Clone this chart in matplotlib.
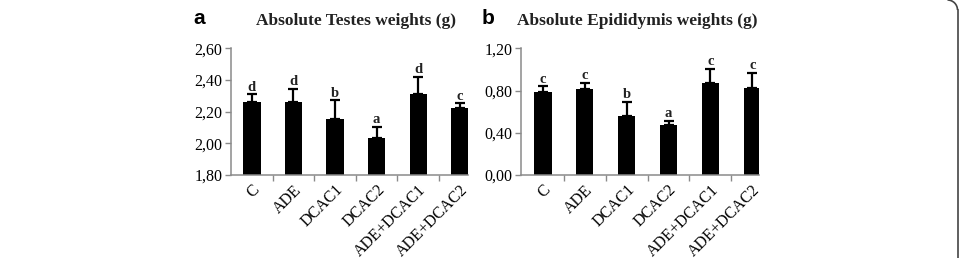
import matplotlib
matplotlib.use("Agg")
import matplotlib.pyplot as plt
from matplotlib.patches import Arc
from matplotlib.lines import Line2D
from matplotlib.transforms import IdentityTransform

categories = ["C", "ADE", "DCAC1", "DCAC2", "ADE+DCAC1", "ADE+DCAC2"]
testes_mean = [2.263, 2.260, 2.152, 2.036, 2.314, 2.225]
testes_err = [0.047, 0.085, 0.122, 0.069, 0.106, 0.028]
testes_sig = ["d", "d", "b", "a", "d", "c"]
epi_mean = [0.782, 0.813, 0.563, 0.478, 0.870, 0.827]
epi_err = [0.057, 0.061, 0.132, 0.038, 0.136, 0.141]
epi_sig = ["c", "c", "b", "a", "c", "c"]

W, H = 959, 258
fig = plt.figure(figsize=(W / 100, H / 100), dpi=100)
fig.patch.set_facecolor("white")

serif = "Liberation Serif"
axcol = "#8a8a8a"

def px_axes(x0, x1, y0, y1):
    return fig.add_axes([x0 / W, 1 - y1 / H, (x1 - x0) / W, (y1 - y0) / H])

def panel(ax, means, errs, sigs, yticks, ylabels, xlim, off):
    x = list(range(len(categories)))
    ax.bar(x, means, width=0.415, color="black", zorder=2)
    ax.errorbar(x, means, yerr=[[0] * len(errs), errs], fmt="none",
                ecolor="black", elinewidth=1.6, capsize=3.5, capthick=1.6, zorder=3)
    for xi, m, e, s in zip(x, means, errs, sigs):
        ax.text(xi, m + e + off, s, ha="center", va="bottom", fontsize=10.5,
                fontweight="bold", family=serif, color="#222222")
    ax.set_xlim(*xlim)
    ax.set_ylim(yticks[0], yticks[-1])
    ax.set_yticks(yticks)
    ax.set_yticklabels(ylabels, family=serif, fontsize=11.5)
    ax.set_xticks(x)
    ax.set_xticklabels(categories, rotation=45, ha="right", rotation_mode="anchor",
                       family=serif, fontsize=11.5)
    ax.set_xticks([i + 0.5 for i in x[:-1]], minor=True)
    ax.tick_params(axis="x", which="major", length=0, pad=5)
    ax.tick_params(axis="x", which="minor", length=4, color=axcol, width=1)
    ax.tick_params(axis="y", length=4, color=axcol, width=1, pad=2)
    for sp in ["top", "right"]:
        ax.spines[sp].set_visible(False)
    for sp in ["left", "bottom"]:
        ax.spines[sp].set_color(axcol)
        ax.spines[sp].set_linewidth(1.1)
    ax.set_facecolor("none")

ax1 = px_axes(230.7, 468, 48.3, 175)
panel(ax1, testes_mean, testes_err, testes_sig,
      [1.80, 2.00, 2.20, 2.40, 2.60], ["1,80", "2,00", "2,20", "2,40", "2,60"],
      (-0.51, 5.2), 0.002)

ax2 = px_axes(520.7, 759, 48.3, 175)
panel(ax2, epi_mean, epi_err, epi_sig,
      [0.0, 0.40, 0.80, 1.20], ["0,00", "0,40", "0,80", "1,20"],
      (-0.53, 5.16), 0.004)

fig.text(199 / W, 1 - 19 / H, "a", ha="center", va="center", fontsize=15,
         fontweight="bold", family="Liberation Sans")
fig.text(356 / W, 1 - 21 / H, "Absolute Testes weights (g)", ha="center", va="center",
         fontsize=12.5, fontweight="bold", family=serif, color="#222222")
fig.text(488 / W, 1 - 19 / H, "b", ha="center", va="center", fontsize=15,
         fontweight="bold", family="Liberation Sans")
fig.text(637 / W, 1 - 21 / H, "Absolute Epididymis weights (g)", ha="center", va="center",
         fontsize=12.5, fontweight="bold", family=serif, color="#222222")

# outer frame: right edge with a rounded top corner (pixel coords, origin bottom-left)
xr, r = 957.5, 10
fig.add_artist(Line2D([xr, xr], [-5, H - r], transform=IdentityTransform(),
                      color="#444444", linewidth=1.2))
fig.add_artist(Arc((xr - r, H - r), 2 * r, 2 * r, theta1=0, theta2=90,
                   transform=IdentityTransform(), color="#444444", linewidth=1.2))

fig.savefig("out.png", dpi=100, facecolor="white")
